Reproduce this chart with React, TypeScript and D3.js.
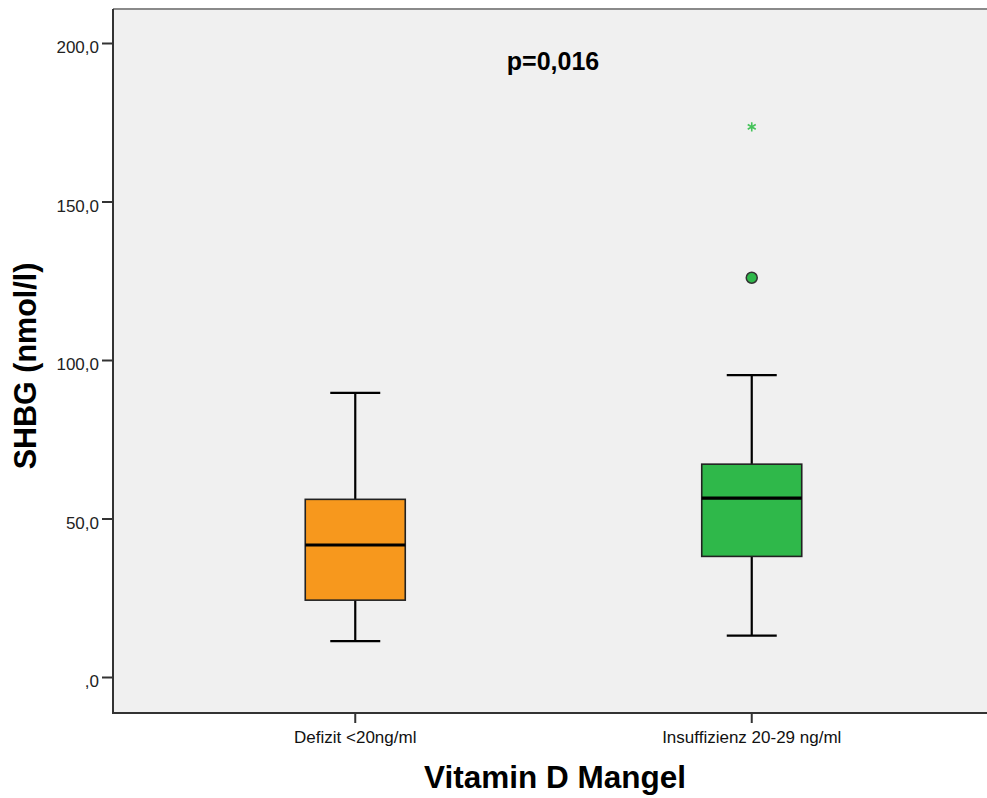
import React from "react";
import * as d3 from "d3";

const categories = ["Defizit <20ng/ml", "Insuffizienz 20-29 ng/ml"];
const whiskerLow = [11.5, 13.2];
const q1 = [24.4, 38.2];
const median = [41.8, 56.6];
const q3 = [56.2, 67.3];
const whiskerHigh = [89.8, 95.4];
const boxColors = ["#F7981D", "#2FB84A"];
const outliers = [{ cat: 1, value: 126.1 }];
const extremes = [{ cat: 1, value: 173.7 }];
const yTicks = [0, 50, 100, 150, 200];
const pText = "p=0,016";
const xTitle = "Vitamin D Mangel";
const yTitle = "SHBG (nmol/l)";

const W = 987;
const H = 798;
const left = 113;
const right = 994;
const top = 9;
const bottom = 713;

export default function App() {
  const y = d3.scaleLinear().domain([0, 200]).range([677.5, 43.5]);
  const x = d3.scalePoint<string>().domain(categories).range([left, right]).padding(0.611);
  const boxW = 100;
  const capW = 50;
  const fmt = (v: number) => (v === 0 ? ",0" : d3.format(".1f")(v).replace(".", ","));
  const star = d3.symbol().type(d3.symbolAsterisk).size(60)();
  const font = "'Liberation Sans', Arial, sans-serif";
  return (
    <svg width={W} height={H} style={{ position: "absolute", left: 0, top: 0 }}>
      <rect x={0} y={0} width={W} height={H} fill="#ffffff" />
      <rect x={left} y={top} width={W - left} height={bottom - top} fill="#f0f0f0" />
      <line x1={left} x2={W} y1={top} y2={top} stroke="#8a8a8a" strokeWidth={2} />
      <line x1={left} x2={left} y1={top} y2={bottom} stroke="#333" strokeWidth={2} />
      <line x1={left - 1} x2={W} y1={bottom} y2={bottom} stroke="#333" strokeWidth={2} />
      {yTicks.map((t) => (
        <g key={t}>
          <line x1={102} x2={left} y1={y(t)} y2={y(t)} stroke="#333" strokeWidth={2} />
          <text x={99} y={y(t) + 9.6} textAnchor="end" fontFamily={font} fontSize={17} fill="#222">
            {fmt(t)}
          </text>
        </g>
      ))}
      {categories.map((c, i) => {
        const cx = x(c)!;
        return (
          <g key={c}>
            <line x1={cx} x2={cx} y1={bottom} y2={723} stroke="#333" strokeWidth={2} />
            <text x={cx} y={743} textAnchor="middle" fontFamily={font} fontSize={17} fill="#111">
              {c}
            </text>
            <line x1={cx} x2={cx} y1={y(whiskerHigh[i])} y2={y(q3[i])} stroke="#000" strokeWidth={2.2} />
            <line x1={cx} x2={cx} y1={y(q1[i])} y2={y(whiskerLow[i])} stroke="#000" strokeWidth={2.2} />
            <line x1={cx - capW / 2} x2={cx + capW / 2} y1={y(whiskerHigh[i])} y2={y(whiskerHigh[i])} stroke="#000" strokeWidth={2.2} />
            <line x1={cx - capW / 2} x2={cx + capW / 2} y1={y(whiskerLow[i])} y2={y(whiskerLow[i])} stroke="#000" strokeWidth={2.2} />
            <rect
              x={cx - boxW / 2}
              y={y(q3[i])}
              width={boxW}
              height={y(q1[i]) - y(q3[i])}
              fill={boxColors[i]}
              stroke="#222"
              strokeWidth={1.6}
            />
            <line x1={cx - boxW / 2} x2={cx + boxW / 2} y1={y(median[i])} y2={y(median[i])} stroke="#000" strokeWidth={3.2} />
          </g>
        );
      })}
      {outliers.map((o, k) => (
        <circle key={k} cx={x(categories[o.cat])!} cy={y(o.value)} r={5.5} fill={boxColors[o.cat]} stroke="#333" strokeWidth={1.5} />
      ))}
      {extremes.map((o, k) => (
        <path key={k} d={star!} transform={`translate(${x(categories[o.cat])},${y(o.value)})`} fill="none" stroke="#45c35a" strokeWidth={1.6} />
      ))}
      <text x={553} y={70} textAnchor="middle" fontFamily={font} fontWeight="bold" fontSize={25} fill="#000">
        {pText}
      </text>
      <text x={555} y={788} textAnchor="middle" fontFamily={font} fontWeight="bold" fontSize={31.5} fill="#000">
        {xTitle}
      </text>
      <text
        transform={`translate(36,${366}) rotate(-90)`}
        textAnchor="middle"
        fontFamily={font}
        fontWeight="bold"
        fontSize={30.5}
        fill="#000"
      >
        {yTitle}
      </text>
    </svg>
  );
}
